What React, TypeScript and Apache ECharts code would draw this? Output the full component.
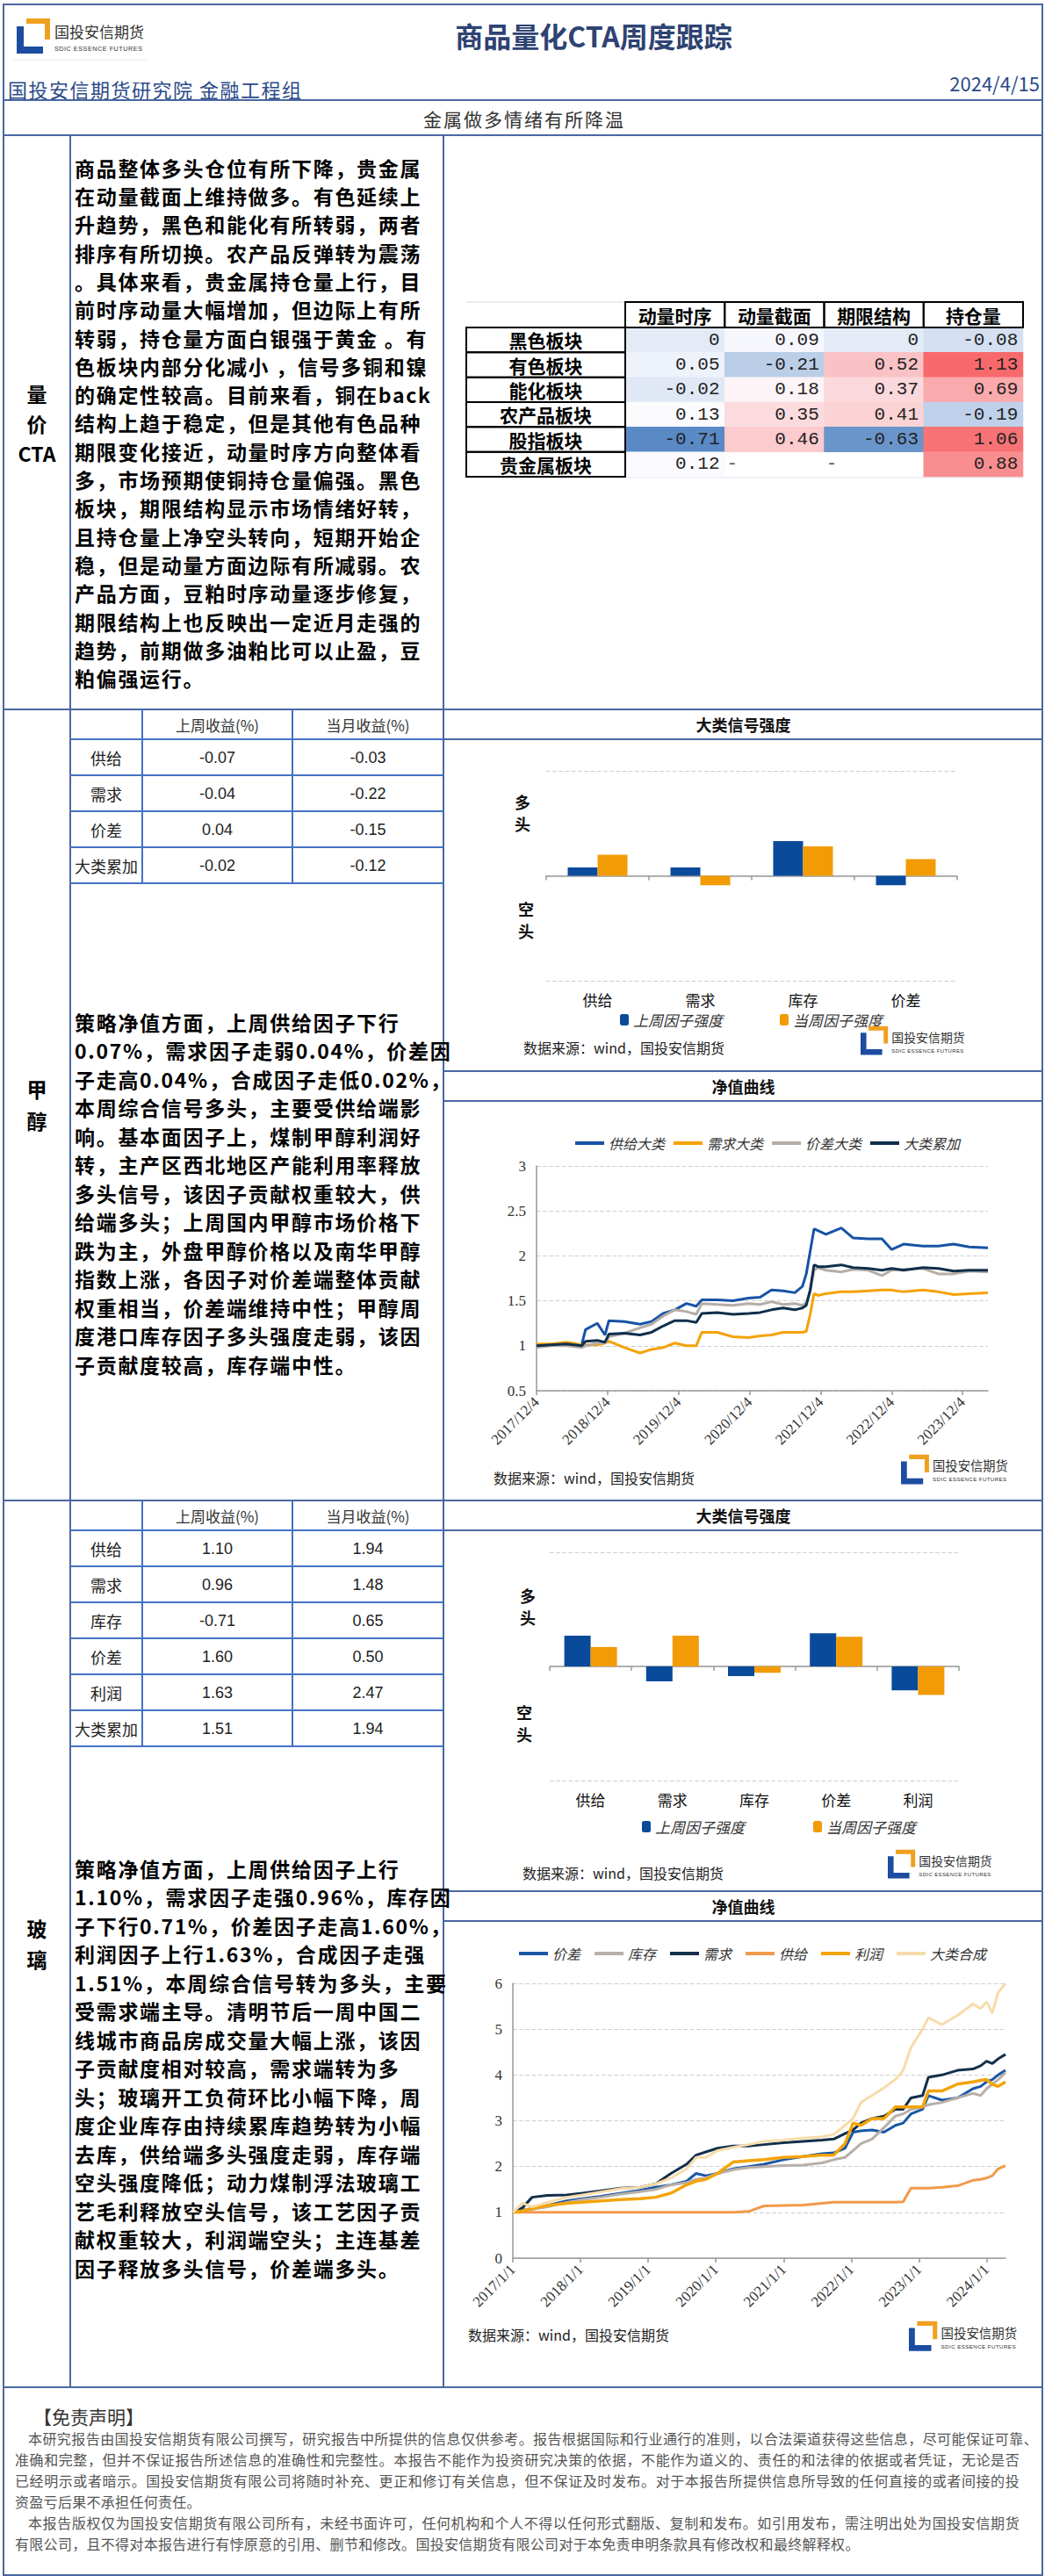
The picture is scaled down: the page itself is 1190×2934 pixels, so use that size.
import React, { useEffect, useRef } from "react";
import * as echarts from "echarts";

// ---------------- DATA ----------------
const heatRows = ["黑色板块", "有色板块", "能化板块", "农产品板块", "股指板块", "贵金属板块"];
const heatCols = ["动量时序", "动量截面", "期限结构", "持仓量"];
const heatMomentumTs = [0, 0.05, -0.02, 0.13, -0.71, 0.12];
const heatMomentumCs = [0.09, -0.21, 0.18, 0.35, 0.46, null];
const heatTermStruct = [0, 0.52, 0.37, 0.41, -0.63, null];
const heatOpenInt = [-0.08, 1.13, 0.69, -0.19, 1.06, 0.88];

const meohTableRows = ["供给", "需求", "价差", "大类累加"];
const meohWeekRet = ["-0.07", "-0.04", "0.04", "-0.02"];
const meohMonthRet = ["-0.03", "-0.22", "-0.15", "-0.12"];

const meohFactors = ["供给", "需求", "库存", "价差"];
const meohLastWeek = [0.08, 0.08, 0.33, -0.09];
const meohThisWeek = [0.2, -0.09, 0.28, 0.16];

const meohNavDates = [
  "2017-12-04", "2018-02-16", "2018-05-07", "2018-07-24", "2018-08-13", "2018-10-12", "2018-11-21", "2018-12-11",
  "2019-03-01", "2019-05-20", "2019-07-18", "2019-09-16", "2019-11-15", "2020-01-14", "2020-03-04", "2020-04-02",
  "2020-06-20", "2020-09-09", "2020-11-28", "2021-01-27", "2021-03-26", "2021-05-25", "2021-07-24", "2021-09-01",
  "2021-09-21", "2021-10-11", "2021-10-31", "2021-11-20", "2021-12-31", "2022-03-20", "2022-05-19", "2022-08-06",
  "2022-10-15", "2022-12-04", "2023-02-03", "2023-05-14", "2023-08-01", "2023-10-19", "2024-01-07", "2024-04-12",
];
const meohSupplyNav = [1.0, 1.01, 1.02, 1.01, 1.18, 1.25, 1.12, 1.28, 1.27, 1.24, 1.27, 1.36, 1.4, 1.47, 1.44, 1.51, 1.51, 1.5, 1.53, 1.54, 1.62, 1.61, 1.59, 1.66, 1.8, 2.05, 2.3, 2.28, 2.24, 2.31, 2.2, 2.19, 2.19, 2.07, 2.13, 2.11, 2.11, 2.13, 2.1, 2.09];
const meohDemandNav = [1.02, 1.02, 1.04, 1.01, 1.01, 1.01, 1.03, 1.05, 0.98, 0.92, 0.96, 0.98, 1.03, 1.0, 1.0, 1.15, 1.15, 1.1, 1.09, 1.11, 1.12, 1.15, 1.15, 1.15, 1.16, 1.35, 1.58, 1.56, 1.58, 1.6, 1.6, 1.61, 1.62, 1.62, 1.6, 1.62, 1.6, 1.57, 1.58, 1.59];
const meohSpreadNav = [0.98, 1.0, 1.0, 0.98, 1.0, 1.03, 1.03, 1.1, 1.14, 1.2, 1.24, 1.33, 1.4, 1.38, 1.35, 1.47, 1.46, 1.45, 1.47, 1.46, 1.49, 1.46, 1.47, 1.45, 1.48, 1.6, 1.84, 1.87, 1.84, 1.82, 1.85, 1.84, 1.78, 1.84, 1.85, 1.86, 1.8, 1.8, 1.83, 1.82];
const meohTotalNav = [1.0, 1.01, 1.02, 1.0, 1.05, 1.06, 1.04, 1.13, 1.14, 1.12, 1.15, 1.22, 1.28, 1.28, 1.26, 1.36, 1.37, 1.35, 1.36, 1.37, 1.4, 1.42, 1.4, 1.42, 1.45, 1.62, 1.9, 1.88, 1.88, 1.9, 1.87, 1.86, 1.84, 1.86, 1.84, 1.87, 1.86, 1.83, 1.84, 1.84];
const meohTickDates = ["2017-12-04", "2018-12-04", "2019-12-04", "2020-12-04", "2021-12-04", "2022-12-04", "2023-12-04"];

const glassTableRows = ["供给", "需求", "库存", "价差", "利润", "大类累加"];
const glassWeekRet = ["1.10", "0.96", "-0.71", "1.60", "1.63", "1.51"];
const glassMonthRet = ["1.94", "1.48", "0.65", "0.50", "2.47", "1.94"];

const glassFactors = ["供给", "需求", "库存", "价差", "利润"];
const glassLastWeek = [0.27, -0.13, -0.085, 0.29, -0.21];
const glassThisWeek = [0.17, 0.27, -0.056, 0.26, -0.25];

const glassNavDates = [
  "2017-01-01", "2017-02-22", "2017-04-15", "2017-07-07", "2017-10-19", "2018-01-11", "2018-04-23", "2018-08-07",
  "2018-11-19", "2019-02-10", "2019-05-04", "2019-07-27", "2019-09-17", "2019-11-08", "2020-01-11", "2020-04-04",
  "2020-06-26", "2020-09-17", "2020-12-31", "2021-04-15", "2021-07-28", "2021-09-28", "2021-11-28", "2022-01-11",
  "2022-02-22", "2022-04-23", "2022-06-26", "2022-08-27", "2022-10-08", "2022-11-19", "2023-01-21", "2023-02-21",
  "2023-05-05", "2023-07-28", "2023-10-19", "2023-11-30", "2024-01-01", "2024-02-01", "2024-03-03", "2024-04-12",
];
const glassSpreadNav = [1.0, 1.05, 1.08, 1.15, 1.25, 1.3, 1.35, 1.42, 1.48, 1.55, 1.6, 1.68, 1.85, 1.8, 1.85, 1.95, 2.0, 2.05, 2.15, 2.22, 2.28, 2.3, 2.4, 2.75, 2.78, 2.8, 2.75, 2.9, 2.95, 3.15, 3.25, 3.55, 3.45, 3.5, 3.7, 3.75, 3.85, 3.9, 4.0, 4.1];
const glassInventoryNav = [1.0, 1.05, 1.07, 1.12, 1.22, 1.28, 1.33, 1.4, 1.45, 1.5, 1.6, 1.65, 1.72, 1.75, 1.85, 1.93, 1.98, 2.0, 2.02, 2.03, 2.08, 2.15, 2.2, 2.35, 2.5, 2.6, 2.85, 3.1, 3.15, 3.25, 3.3, 3.35, 3.4, 3.5, 3.6, 3.55, 3.7, 3.8, 3.9, 4.05];
const glassDemandNav = [1.0, 1.1, 1.33, 1.37, 1.38, 1.42, 1.47, 1.53, 1.55, 1.62, 1.85, 2.05, 2.25, 2.32, 2.4, 2.45, 2.45, 2.48, 2.52, 2.55, 2.58, 2.6, 2.72, 2.8, 2.95, 3.05, 3.1, 3.25, 3.25, 3.5, 3.55, 3.95, 4.0, 4.1, 4.13, 4.2, 4.3, 4.25, 4.35, 4.45];
const glassSupplyNav = [1.0, 1.0, 1.0, 1.0, 1.0, 1.0, 1.0, 1.0, 1.0, 1.0, 1.0, 1.0, 1.0, 1.0, 1.0, 1.0, 1.02, 1.14, 1.15, 1.16, 1.2, 1.22, 1.22, 1.22, 1.22, 1.22, 1.22, 1.22, 1.23, 1.53, 1.53, 1.53, 1.55, 1.58, 1.7, 1.72, 1.75, 1.8, 1.95, 2.02];
const glassProfitNav = [1.0, 1.03, 1.08, 1.15, 1.2, 1.22, 1.25, 1.28, 1.3, 1.33, 1.42, 1.6, 1.68, 1.72, 1.85, 2.1, 2.13, 2.15, 2.2, 2.22, 2.25, 2.25, 2.5, 2.95, 2.9, 3.05, 3.05, 3.3, 3.3, 3.3, 3.3, 3.65, 3.65, 3.8, 3.85, 3.88, 3.9, 3.8, 3.75, 3.85];
const glassCompositeNav = [1.0, 1.2, 1.12, 1.22, 1.33, 1.38, 1.45, 1.52, 1.55, 1.62, 1.75, 1.95, 2.2, 2.2, 2.35, 2.42, 2.48, 2.55, 2.58, 2.62, 2.65, 2.7, 2.9, 3.05, 3.4, 3.55, 3.72, 3.9, 4.1, 4.6, 5.0, 5.25, 5.1, 5.3, 5.55, 5.45, 5.6, 5.35, 5.8, 6.0];
const glassTickDates = ["2017-01-01", "2018-01-01", "2019-01-01", "2020-01-01", "2021-01-01", "2022-01-01", "2023-01-01", "2024-01-01"];

const ctaText = [
  "商品整体多头仓位有所下降，贵金属",
  "在动量截面上维持做多。有色延续上",
  "升趋势，黑色和能化有所转弱，两者",
  "排序有所切换。农产品反弹转为震荡",
  "。具体来看，贵金属持仓量上行，目",
  "前时序动量大幅增加，但边际上有所",
  "转弱，持仓量方面白银强于黄金 。有",
  "色板块内部分化减小 ，信号多铜和镍",
  "的确定性较高。目前来看，铜在back",
  "结构上趋于稳定，但是其他有色品种",
  "期限变化接近，动量时序方向整体看",
  "多，市场预期使铜持仓量偏强。黑色",
  "板块，期限结构显示市场情绪好转，",
  "且持仓量上净空头转向，短期开始企",
  "稳，但是动量方面边际有所减弱。农",
  "产品方面，豆粕时序动量逐步修复，",
  "期限结构上也反映出一定近月走强的",
  "趋势，前期做多油粕比可以止盈，豆",
  "粕偏强运行。",
];
const meohText = [
  "策略净值方面，上周供给因子下行",
  "0.07%，需求因子走弱0.04%，价差因",
  "子走高0.04%，合成因子走低0.02%，",
  "本周综合信号多头，主要受供给端影",
  "响。基本面因子上，煤制甲醇利润好",
  "转，主产区西北地区产能利用率释放",
  "多头信号，该因子贡献权重较大，供",
  "给端多头；上周国内甲醇市场价格下",
  "跌为主，外盘甲醇价格以及南华甲醇",
  "指数上涨，各因子对价差端整体贡献",
  "权重相当，价差端维持中性；甲醇周",
  "度港口库存因子多头强度走弱，该因",
  "子贡献度较高，库存端中性。",
];
const glassText = [
  "策略净值方面，上周供给因子上行",
  "1.10%，需求因子走强0.96%，库存因",
  "子下行0.71%，价差因子走高1.60%，",
  "利润因子上行1.63%，合成因子走强",
  "1.51%，本周综合信号转为多头，主要",
  "受需求端主导。清明节后一周中国二",
  "线城市商品房成交量大幅上涨，该因",
  "子贡献度相对较高，需求端转为多",
  "头；玻璃开工负荷环比小幅下降，周",
  "度企业库存由持续累库趋势转为小幅",
  "去库，供给端多头强度走弱，库存端",
  "空头强度降低；动力煤制浮法玻璃工",
  "艺毛利释放空头信号，该工艺因子贡",
  "献权重较大，利润端空头；主连基差",
  "因子释放多头信号，价差端多头。",
];
const disclaimerLines = [
  "本研究报告由国投安信期货有限公司撰写，研究报告中所提供的信息仅供参考。报告根据国际和行业通行的准则，以合法渠道获得这些信息，尽可能保证可靠、",
  "准确和完整，但并不保证报告所述信息的准确性和完整性。本报告不能作为投资研究决策的依据，不能作为道义的、责任的和法律的依据或者凭证，无论是否",
  "已经明示或者暗示。国投安信期货有限公司将随时补充、更正和修订有关信息，但不保证及时发布。对于本报告所提供信息所导致的任何直接的或者间接的投",
  "资盈亏后果不承担任何责任。",
  "本报告版权仅为国投安信期货有限公司所有，未经书面许可，任何机构和个人不得以任何形式翻版、复制和发布。如引用发布，需注明出处为国投安信期货",
  "有限公司，且不得对本报告进行有悖原意的引用、删节和修改。国投安信期货有限公司对于本免责申明条款具有修改权和最终解释权。",
];

// ---------------- STYLE ----------------
const CJK = '"Noto Sans CJK SC", "Noto Sans", sans-serif';
const SERIF = '"Liberation Serif", "DejaVu Serif", serif';
const MONO = '"Liberation Mono", "DejaVu Sans Mono", monospace';
const ARIAL = '"Liberation Sans", Arial, sans-serif';
const FRAME = "#4a67a1";
const TABLE_LINE = "#4472c4";
const BAR_BLUE = "#0a4a9a";
const BAR_ORANGE = "#f29b05";

const parseDay = (s: string) => {
  const [y, m, d] = s.split("-").map(Number);
  return new Date(y, m - 1, d).getTime();
};
const fmtDay = (v: number) => {
  const d = new Date(v);
  return `${d.getFullYear()}/${d.getMonth() + 1}/${d.getDate()}`;
};

// ---------------- HEATMAP TABLE ----------------
function hex(c: string) {
  return [1, 3, 5].map((i) => parseInt(c.slice(i, i + 2), 16));
}
function mix(a: string, b: string, t: number) {
  const A = hex(a), B = hex(b);
  const r = A.map((v, i) => Math.round(v + (B[i] - v) * t));
  return `rgb(${r[0]},${r[1]},${r[2]})`;
}
function buildHeatOption() {
  const cols = [heatMomentumTs, heatMomentumCs, heatTermStruct, heatOpenInt];
  const data: any[] = [];
  const missing: any[] = [];
  cols.forEach((col, ci) =>
    col.forEach((v, ri) => {
      if (v === null) missing.push([ci, ri]);
      else data.push([ci, ri, v]);
    })
  );
  const vals = data.map((d) => d[2]).sort((a, b) => a - b);
  const lo = vals[0], hi = vals[vals.length - 1];
  const med = vals.length % 2 ? vals[(vals.length - 1) / 2] : (vals[vals.length / 2 - 1] + vals[vals.length / 2]) / 2;
  const m = (med - lo) / (hi - lo);
  const ramp: string[] = [];
  const N = 41;
  for (let i = 0; i < N; i++) {
    const t = i / (N - 1);
    ramp.push(t <= m ? mix("#5a8ac6", "#fcfcff", t / m) : mix("#fcfcff", "#f8696b", (t - m) / (1 - m)));
  }
  const gL = 207, gT = 53, gW = 453, gH = 170, headTop = 24, labLeft = 26;
  const cw = gW / heatCols.length, rh = gH / heatRows.length;
  const box = { fill: "none", stroke: "#000", lineWidth: 2 };
  const graphic: any[] = [];
  heatCols.forEach((_, i) =>
    graphic.push({ type: "rect", silent: true, z: 100, shape: { x: gL + i * cw, y: headTop, width: cw, height: gT - headTop }, style: box })
  );
  heatRows.forEach((_, i) =>
    graphic.push({ type: "rect", silent: true, z: 100, shape: { x: labLeft, y: gT + i * rh, width: gL - labLeft, height: rh }, style: box })
  );
  graphic.push({ type: "line", silent: true, shape: { x1: labLeft, y1: headTop, x2: gL, y2: headTop }, style: { stroke: "#d8d8d8", lineWidth: 1 } });
  graphic.push({ type: "line", silent: true, shape: { x1: gL, y1: gT + gH + 1, x2: gL + gW, y2: gT + gH + 1 }, style: { stroke: "#dfe4ee", lineWidth: 1 } });
  return {
    animation: false,
    textStyle: { fontFamily: CJK },
    grid: { left: gL, top: gT, width: gW, height: gH },
    xAxis: {
      type: "category",
      position: "top",
      data: heatCols,
      axisLine: { show: false },
      axisTick: { show: false },
      splitLine: { show: false },
      axisLabel: { fontSize: 21, fontWeight: "bold", color: "#000", margin: 14.5, verticalAlign: "middle", fontFamily: CJK },
    },
    yAxis: {
      type: "category",
      inverse: true,
      data: heatRows,
      axisLine: { show: false },
      axisTick: { show: false },
      splitLine: { show: false },
      axisLabel: { fontSize: 21, fontWeight: "bold", color: "#000", align: "center", margin: 90.5, fontFamily: CJK },
    },
    visualMap: { show: false, type: "continuous", min: lo, max: hi, dimension: 2, seriesIndex: 0, inRange: { color: ramp } },
    series: [
      {
        type: "heatmap",
        data,
        itemStyle: { borderWidth: 0 },
        emphasis: { disabled: true },
        label: {
          show: true,
          position: "insideRight",
          distance: 6,
          formatter: (p: any) => String(p.value[2]),
          fontFamily: MONO,
          fontSize: 21,
          color: "#222",
        },
      },
      {
        type: "scatter",
        data: missing,
        symbolSize: 0,
        silent: true,
        label: { show: true, formatter: "-", position: "inside", offset: [-48, 0], fontFamily: MONO, fontSize: 21, color: "#222" },
      },
    ],
    graphic,
  };
}

// ---------------- SIGNAL BAR CHART ----------------
function buildSignalOption(cats: string[], last: number[], cur: number[], L: any) {
  const vText = (x: number, y: number, t: string) => ({
    type: "text",
    x,
    y,
    silent: true,
    style: { text: t, fontSize: 18, fontWeight: "bold", fill: "#111", align: "center", verticalAlign: "middle", lineHeight: 25, fontFamily: CJK },
  });
  return {
    animation: false,
    textStyle: { fontFamily: CJK },
    grid: { left: L.left, right: L.right, top: L.top, bottom: L.bottom },
    legend: {
      data: ["上周因子强度", "当周因子强度"],
      left: L.legendLeft,
      top: L.legendTop,
      icon: "roundRect",
      itemWidth: 10,
      itemHeight: 13,
      itemGap: L.legendGap,
      textStyle: { fontSize: 17, fontStyle: "italic", color: "#333", fontFamily: CJK },
    },
    xAxis: [
      {
        type: "category",
        data: cats,
        axisLine: { show: true, onZero: true, lineStyle: { color: "#9a9a9a", width: 1.5 } },
        axisTick: { show: true, length: 5, lineStyle: { color: "#9a9a9a", width: 1.5 } },
        axisLabel: { show: false },
        splitLine: { show: false },
      },
      {
        type: "category",
        data: cats,
        position: "bottom",
        axisLine: { show: false, onZero: false },
        axisTick: { show: false },
        splitLine: { show: false },
        axisLabel: { fontSize: 17, color: "#111", margin: 13, fontFamily: CJK },
      },
    ],
    yAxis: {
      type: "value",
      min: -1,
      max: 1,
      interval: 1,
      axisLine: { show: false },
      axisTick: { show: false },
      axisLabel: { show: false },
      splitLine: { show: true, lineStyle: { type: "dashed", color: "#cfcfcf", width: 1.2 } },
    },
    series: [
      { name: "上周因子强度", type: "bar", xAxisIndex: 0, data: last, barWidth: L.barWidth, barGap: "0%", itemStyle: { color: BAR_BLUE } },
      { name: "当周因子强度", type: "bar", xAxisIndex: 0, data: cur, barWidth: L.barWidth, barGap: "0%", itemStyle: { color: BAR_ORANGE } },
    ],
    graphic: [vText(L.longX, L.longY, "多\n头"), vText(L.shortX, L.shortY, "空\n头")],
  };
}

// ---------------- NAV LINE CHART ----------------
function buildNavOption(dates: string[], lines: any[], ticks: string[], L: any) {
  const tickVals = ticks.map(parseDay);
  const xs = dates.map(parseDay);
  return {
    animation: false,
    textStyle: { fontFamily: CJK },
    grid: { left: L.left, right: L.right, top: L.top, bottom: L.bottom },
    legend: {
      data: lines.map((s) => s.name),
      left: L.legendLeft,
      top: L.legendTop,
      icon: "rect",
      itemWidth: 33,
      itemHeight: 4,
      itemGap: L.legendGap,
      textStyle: { fontSize: 16, fontStyle: "italic", color: "#333", fontFamily: CJK },
    },
    xAxis: {
      type: "value",
      min: xs[0],
      max: xs[xs.length - 1],
      axisLine: { show: true, lineStyle: { color: "#999", width: 1.5 } },
      axisTick: { show: true, customValues: tickVals, length: 5, lineStyle: { color: "#999", width: 1.5 } },
      axisLabel: { customValues: tickVals, rotate: 45, margin: 10, formatter: (v: number) => fmtDay(v), fontFamily: SERIF, fontSize: 17, color: "#333" },
      splitLine: { show: false },
    },
    yAxis: {
      type: "value",
      min: L.yMin,
      max: L.yMax,
      interval: L.yStep,
      axisLine: { show: true, lineStyle: { color: "#999", width: 1.5 } },
      axisTick: { show: false },
      axisLabel: { fontFamily: SERIF, fontSize: 17, color: "#333", margin: 12 },
      splitLine: { show: true, lineStyle: { type: "dashed", color: "#cfcfcf", width: 1.2 } },
    },
    series: lines.map((s) => ({
      name: s.name,
      type: "line",
      data: xs.map((x, i) => [x, s.data[i]]),
      showSymbol: false,
      symbol: "none",
      lineStyle: { color: s.color, width: s.width },
      itemStyle: { color: s.color },
    })),
  };
}

const heatOption = buildHeatOption();
const meohSignalOption = buildSignalOption(meohFactors, meohLastWeek, meohThisWeek, {
  left: 116, right: 96, top: 35, bottom: 102, legendLeft: 195, legendTop: 305, legendGap: 65, barWidth: 34,
  longX: 89, longY: 82.5, shortX: 93, shortY: 204.5,
});
const glassSignalOption = buildSignalOption(glassFactors, glassLastWeek, glassThisWeek, {
  left: 120, right: 94, top: 24, bottom: 126, legendLeft: 220, legendTop: 323, legendGap: 78, barWidth: 30,
  longX: 95, longY: 85.5, shortX: 91, shortY: 218.5,
});
const meohNavOption = buildNavOption(
  meohNavDates,
  [
    { name: "供给大类", data: meohSupplyNav, color: "#1753a5", width: 3 },
    { name: "需求大类", data: meohDemandNav, color: "#f5a205", width: 3 },
    { name: "价差大类", data: meohSpreadNav, color: "#b5ada6", width: 3 },
    { name: "大类累加", data: meohTotalNav, color: "#0f2f4c", width: 3 },
  ],
  meohTickDates,
  { left: 105, right: 61, top: 73, bottom: 124, legendLeft: 144, legendTop: 34, legendGap: 10, yMin: 0.5, yMax: 3, yStep: 0.5 }
);
const glassNavOption = buildNavOption(
  glassNavDates,
  [
    { name: "价差", data: glassSpreadNav, color: "#1a56a6", width: 3 },
    { name: "库存", data: glassInventoryNav, color: "#b7afa8", width: 3 },
    { name: "需求", data: glassDemandNav, color: "#132f4a", width: 3 },
    { name: "供给", data: glassSupplyNav, color: "#f19a4b", width: 3 },
    { name: "利润", data: glassProfitNav, color: "#f3a409", width: 3.5 },
    { name: "大类合成", data: glassCompositeNav, color: "#f6dcab", width: 3 },
  ],
  glassTickDates,
  { left: 78, right: 41, top: 70, bottom: 146, legendLeft: 80, legendTop: 23, legendGap: 16, yMin: 0, yMax: 6, yStep: 1 }
);

// ---------------- COMPONENTS ----------------
function EChart({ option, left, top, width, height }: any) {
  const ref = useRef<HTMLDivElement>(null);
  useEffect(() => {
    if (!ref.current) return;
    const chart = echarts.init(ref.current, undefined, { renderer: "svg" });
    try {
      chart.setOption(option);
    } catch (e) {
      console.error(e);
    }
    return () => chart.dispose();
  }, [option]);
  return <div ref={ref} style={{ position: "absolute", left, top, width, height }} />;
}

function HL({ x1, x2, y, w = 2, color = FRAME }: any) {
  return <div style={{ position: "absolute", left: x1, top: y - w / 2, width: x2 - x1, height: w, background: color }} />;
}
function VL({ x, y1, y2, w = 1.5, color = FRAME }: any) {
  return <div style={{ position: "absolute", left: x - w / 2, top: y1, width: w, height: y2 - y1, background: color }} />;
}
function CT({ cx, cy, children, style }: any) {
  return (
    <div
      style={{
        position: "absolute",
        left: cx,
        top: cy,
        transform: "translate(-50%, -50%)",
        whiteSpace: "nowrap",
        ...style,
      }}
    >
      {children}
    </div>
  );
}

function Logo({ left, top, scale }: any) {
  return (
    <svg style={{ position: "absolute", left, top }} width={150 * scale} height={42 * scale} viewBox="0 0 150 42">
      <path d="M11 1H38V25H32V7H11Z" fill="#f0a020" />
      <path d="M0 10H8V33H30V41H0Z" fill="#1c4da0" />
      <text x="43" y="23" fontSize="17" fill="#333" fontFamily={CJK}>
        国投安信期货
      </text>
      <text x="43" y="37.5" fontSize="7.3" fill="#333" fontFamily={ARIAL} textLength="100">
        SDIC ESSENCE FUTURES
      </text>
    </svg>
  );
}

function Body({ left, top, lines, lh }: any) {
  return (
    <div style={{ position: "absolute", left, top }}>
      {lines.map((t: string, i: number) => (
        <div
          key={i}
          style={{
            height: lh,
            lineHeight: `${lh}px`,
            fontSize: 23,
            fontWeight: "bold",
            letterSpacing: "1.7px",
            color: "#000",
            whiteSpace: "pre",
            fontFamily: CJK,
          }}
        >
          {t}
        </div>
      ))}
    </div>
  );
}

function SideLabel({ cy, lines, lh }: any) {
  const top = cy - (lines.length * lh) / 2;
  return (
    <div style={{ position: "absolute", left: 4, width: 76, top, textAlign: "center" }}>
      {lines.map((t: string, i: number) => (
        <div key={i} style={{ height: lh, lineHeight: `${lh}px`, fontSize: 23, fontWeight: "bold", color: "#000", fontFamily: CJK }}>
          {t}
        </div>
      ))}
    </div>
  );
}

function ReturnTable({ top, headerH, rowH, rows, week, month }: any) {
  const els: any[] = [];
  const ys = [top + headerH, ...rows.map((_: any, i: number) => top + headerH + (i + 1) * rowH)];
  ys.forEach((y: number, i: number) => els.push(<HL key={"h" + i} x1={80} x2={505} y={y} w={2} color={TABLE_LINE} />));
  const bottom = ys[ys.length - 1];
  [162, 333].forEach((x, i) => els.push(<VL key={"v" + i} x={x} y1={top} y2={bottom} w={2} color={TABLE_LINE} />));
  const hs = { fontSize: 17, color: "#333", fontFamily: CJK };
  els.push(<CT key="c1" cx={247.5} cy={top + headerH / 2} style={hs}>上周收益(%)</CT>);
  els.push(<CT key="c2" cx={419} cy={top + headerH / 2} style={hs}>当月收益(%)</CT>);
  rows.forEach((r: string, i: number) => {
    const cy = top + headerH + (i + 0.5) * rowH;
    els.push(<CT key={"r" + i} cx={121} cy={cy} style={{ fontSize: 18, color: "#222", fontFamily: CJK }}>{r}</CT>);
    els.push(<CT key={"w" + i} cx={247.5} cy={cy} style={{ fontSize: 18, color: "#222", fontFamily: ARIAL }}>{week[i]}</CT>);
    els.push(<CT key={"m" + i} cx={419} cy={cy} style={{ fontSize: 18, color: "#222", fontFamily: ARIAL }}>{month[i]}</CT>);
  });
  return <>{els}</>;
}

function Source({ left, cy }: any) {
  return (
    <div style={{ position: "absolute", left, top: cy - 11, lineHeight: "22px", fontSize: 16, color: "#222", whiteSpace: "nowrap", fontFamily: CJK }}>
      数据来源：wind，国投安信期货
    </div>
  );
}

const panelTitle = { fontSize: 18, fontWeight: "bold", color: "#111", fontFamily: CJK };

export default function App() {
  useEffect(() => {
    document.body.style.margin = "0";
  }, []);
  const discl = [
    { l: 32, r: 1182, j: true },
    { l: 17, r: 1161, j: true },
    { l: 17, r: 1161, j: true },
    { l: 17, r: 0, j: false },
    { l: 32, r: 1161, j: true },
    { l: 17, r: 0, j: false },
  ];
  return (
    <div style={{ position: "relative", width: 1190, height: 2934, background: "#fff", fontFamily: CJK, overflow: "hidden" }}>
      <style>{"body{margin:0}"}</style>
      {/* frame */}
      <div style={{ position: "absolute", left: 3, top: 4, width: 1185, height: 2930, border: `2px solid ${FRAME}`, boxSizing: "border-box" }} />
      <HL x1={3} x2={1188} y={114} />
      <HL x1={3} x2={1188} y={154} />
      <HL x1={3} x2={1188} y={808} />
      <HL x1={3} x2={1188} y={1709} />
      <HL x1={3} x2={1188} y={2719} />
      <VL x={80} y1={154} y2={2719} />
      <VL x={505} y1={154} y2={2719} />
      <HL x1={505} x2={1188} y={842} />
      <HL x1={505} x2={1188} y={1220} />
      <HL x1={505} x2={1188} y={1254} />
      <HL x1={505} x2={1188} y={1743} />
      <HL x1={505} x2={1188} y={2154} />
      <HL x1={505} x2={1188} y={2188} />

      {/* header */}
      <Logo left={19} top={20} scale={1} />
      <div style={{ position: "absolute", left: 15, top: 68, width: 152, height: 1, background: "#e8e8e8" }} />
      <CT cx={676} cy={40} style={{ fontSize: 32, fontWeight: "bold", color: "#2e4372", fontFamily: CJK }}>
        商品量化CTA周度跟踪
      </CT>
      <div style={{ position: "absolute", left: 9, top: 87, lineHeight: "28px", fontSize: 22, letterSpacing: "1.5px", color: "#2b4a88", fontFamily: CJK, whiteSpace: "nowrap" }}>
        国投安信期货研究院 金融工程组
      </div>
      <div style={{ position: "absolute", right: 6, top: 80, lineHeight: "28px", fontSize: 22, color: "#2b4a88", fontFamily: CJK }}>
        2024/4/15
      </div>
      <CT cx={597} cy={135} style={{ fontSize: 21, letterSpacing: "2px", color: "#333", fontFamily: CJK }}>
        金属做多情绪有所降温
      </CT>

      {/* section 1 */}
      <SideLabel cy={482} lines={["量", "价", "CTA"]} lh={34} />
      <Body left={85} top={174.8} lines={ctaText} lh={32.3} />
      <EChart option={heatOption} left={505} top={320} width={682} height={240} />

      {/* section 2: 甲醇 */}
      <SideLabel cy={1258} lines={["甲", "醇"]} lh={36} />
      <ReturnTable top={808} headerH={34} rowH={41} rows={meohTableRows} week={meohWeekRet} month={meohMonthRet} />
      <Body left={85} top={1147.75} lines={meohText} lh={32.5} />
      <CT cx={846.5} cy={825} style={panelTitle}>大类信号强度</CT>
      <EChart option={meohSignalOption} left={506} top={843} width={680} height={376} />
      <Source left={596} cy={1193} />
      <Logo left={980} top={1168} scale={0.82} />
      <CT cx={846.5} cy={1237} style={panelTitle}>净值曲线</CT>
      <EChart option={meohNavOption} left={506} top={1255} width={680} height={453} />
      <Source left={562} cy={1683} />
      <Logo left={1026} top={1656} scale={0.84} />

      {/* section 3: 玻璃 */}
      <SideLabel cy={2214} lines={["玻", "璃"]} lh={35} />
      <ReturnTable top={1709} headerH={34} rowH={41} rows={glassTableRows} week={glassWeekRet} month={glassMonthRet} />
      <Body left={85} top={2111.75} lines={glassText} lh={32.5} />
      <CT cx={846.5} cy={1726} style={panelTitle}>大类信号强度</CT>
      <EChart option={glassSignalOption} left={506} top={1744} width={680} height={410} />
      <Source left={595} cy={2133} />
      <Logo left={1011} top={2106} scale={0.82} />
      <CT cx={846.5} cy={2171} style={panelTitle}>净值曲线</CT>
      <EChart option={glassNavOption} left={506} top={2189} width={680} height={529} />
      <Source left={533} cy={2659} />
      <Logo left={1035} top={2643} scale={0.85} />

      {/* disclaimer */}
      <div style={{ position: "absolute", left: 38, top: 2738, lineHeight: "28px", fontSize: 21, color: "#333", fontFamily: CJK }}>【免责声明】</div>
      {disclaimerLines.map((t, i) => {
        const d = discl[i];
        return (
          <div
            key={i}
            style={{
              position: "absolute",
              left: d.l,
              width: d.j ? d.r - d.l : undefined,
              top: 2765 + i * 24,
              lineHeight: "24px",
              fontSize: 16,
              letterSpacing: "0.3px",
              color: "#555",
              whiteSpace: "nowrap",
              textAlign: d.j ? "justify" : "left",
              textAlignLast: d.j ? "justify" : "auto",
              fontFamily: CJK,
            } as any}
          >
            {t}
          </div>
        );
      })}
    </div>
  );
}
